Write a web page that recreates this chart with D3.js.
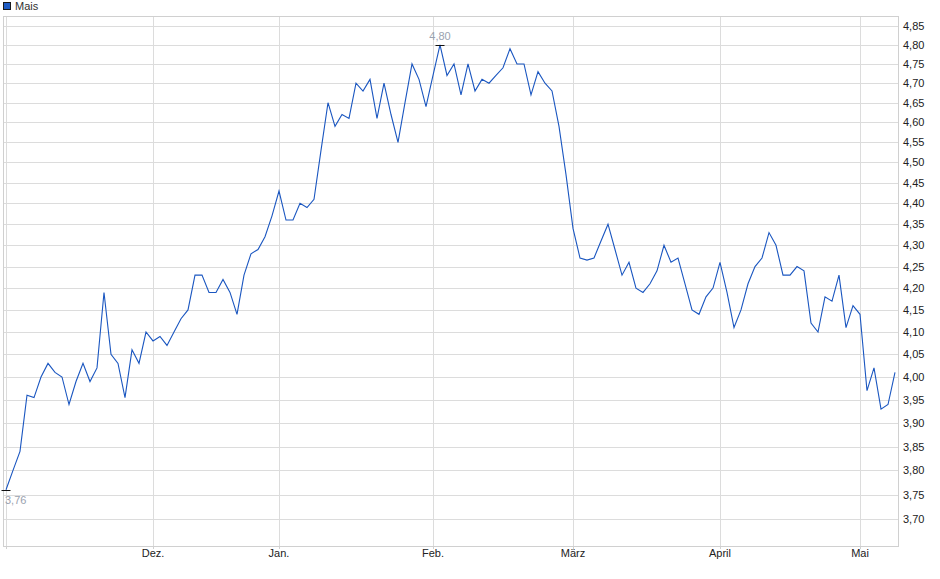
<!DOCTYPE html>
<html>
<head>
<meta charset="utf-8">
<script src="https://cdn.jsdelivr.net/npm/d3@7"></script>
<style>
    body { margin: 0; background: #fff; }
    text { font-family: "Liberation Sans", Arial, sans-serif; }
</style>
</head>
<body>
<script>
// series name + daily closes (trading days, Nov -> May)
const seriesName = "Mais";

const closes = [
    3.76, 3.80, 3.84, 3.96, 3.955, 4.00, 4.03, 4.01, 4.00, 3.94,
    3.99, 4.03, 3.99, 4.02, 4.19, 4.05, 4.03, 3.955, 4.06, 4.03,
    4.10, 4.08, 4.09, 4.07, 4.10, 4.13, 4.15, 4.23, 4.23, 4.19,
    4.19, 4.22, 4.19, 4.14, 4.23, 4.28, 4.29, 4.32, 4.37, 4.43,
    4.36, 4.36, 4.40, 4.39, 4.41, 4.53, 4.65, 4.59, 4.62, 4.61,
    4.70, 4.68, 4.71, 4.61, 4.70, 4.62, 4.55, 4.65, 4.75, 4.71,
    4.64, 4.72, 4.80, 4.72, 4.75, 4.67, 4.75, 4.68, 4.71, 4.70,
    4.72, 4.74, 4.79, 4.75, 4.75, 4.67, 4.73, 4.70, 4.68, 4.59,
    4.47, 4.34, 4.27, 4.265, 4.27, 4.31, 4.35, 4.29, 4.23, 4.26,
    4.20, 4.19, 4.21, 4.24, 4.30, 4.26, 4.27, 4.21, 4.15, 4.14,
    4.18, 4.20, 4.26, 4.19, 4.11, 4.15, 4.21, 4.25, 4.27, 4.33,
    4.30, 4.23, 4.23, 4.25, 4.24, 4.12, 4.10, 4.18, 4.17, 4.23,
    4.11, 4.16, 4.14, 3.97, 4.02, 3.93, 3.94, 4.01
];

// month starts (index into closes) and their labels
const monthIndex = [21, 39, 61, 81, 102, 122];
const monthLabels = ["Dez.", "Jan.", "Feb.", "März", "April", "Mai"];

// right-hand price ticks
const priceTicks = [
    3.70, 3.75, 3.80, 3.85, 3.90, 3.95, 4.00, 4.05, 4.10, 4.15, 4.20, 4.25,
    4.30, 4.35, 4.40, 4.45, 4.50, 4.55, 4.60, 4.65, 4.70, 4.75, 4.80, 4.85
];

const svgWidth = 940;
const svgHeight = 579;

const plot = {left: 3, right: 898, top: 16, bottom: 546};

const lineColor = "#1a56c0";
const gridColor = "#dcdcdc";
const labelColor = "#9aa2b0";

const fmt = v => d3.format(".2f")(v).replace(".", ",");

render_chart();

function render_chart() {

    const svg = d3.select("body")
        .append("svg")
        .attr("width", svgWidth)
        .attr("height", svgHeight);

    const x = d3.scaleLinear()
        .domain([0, closes.length - 1])
        .range([6, 895]);

    const y = d3.scaleLog()
        .domain([3.70, 4.85])
        .range([519, 26]);

    // legend
    svg.append("rect")
        .attr("x", 3.5).attr("y", 2.5)
        .attr("width", 7).attr("height", 7)
        .style("fill", "#1f5cc4")
        .style("stroke", "#1a1a1a");

    svg.append("text")
        .attr("x", 15).attr("y", 10)
        .text(seriesName)
        .style("font-size", "11px")
        .style("fill", "#333");

    // horizontal grid
    svg.append("g")
        .selectAll("line")
        .data(priceTicks)
        .join("line")
        .attr("x1", plot.left).attr("x2", plot.right)
        .attr("y1", d => Math.round(y(d)) + 0.5)
        .attr("y2", d => Math.round(y(d)) + 0.5)
        .style("stroke", gridColor);

    // vertical grid (start + month starts)
    svg.append("g")
        .selectAll("line")
        .data([0].concat(monthIndex))
        .join("line")
        .attr("x1", d => Math.round(x(d)) + 0.5)
        .attr("x2", d => Math.round(x(d)) + 0.5)
        .attr("y1", plot.top).attr("y2", plot.bottom + (0))
        .style("stroke", gridColor);

    // frame
    svg.append("rect")
        .attr("x", plot.left + 0.5).attr("y", plot.top + 0.5)
        .attr("width", plot.right - plot.left)
        .attr("height", plot.bottom - plot.top)
        .style("fill", "none")
        .style("stroke", "#d0d0d0");

    // small ticks below the axis
    svg.append("g")
        .selectAll("line")
        .data([0].concat(monthIndex))
        .join("line")
        .attr("x1", d => Math.round(x(d)) + 0.5)
        .attr("x2", d => Math.round(x(d)) + 0.5)
        .attr("y1", plot.bottom).attr("y2", plot.bottom + 3)
        .style("stroke", "#d0d0d0");

    // month labels
    svg.append("g")
        .selectAll("text")
        .data(monthIndex)
        .join("text")
        .attr("x", d => x(d))
        .attr("y", 557)
        .attr("text-anchor", "middle")
        .text((d, i) => monthLabels[i])
        .style("font-size", "11px")
        .style("fill", "#222");

    // price labels
    svg.append("g")
        .selectAll("text")
        .data(priceTicks)
        .join("text")
        .attr("x", 903)
        .attr("y", d => y(d) + 4)
        .text(d => fmt(d))
        .style("font-size", "11px")
        .style("fill", "#222");

    // the series
    const line = d3.line()
        .x((d, i) => x(i))
        .y(d => y(d));

    svg.append("path")
        .datum(closes)
        .attr("d", line)
        .style("fill", "none")
        .style("stroke", lineColor)
        .style("stroke-width", 1.1);

    // min / max markers
    const iMin = d3.minIndex(closes);
    const iMax = d3.maxIndex(closes);

    [iMin, iMax].forEach(i => {
        svg.append("line")
            .attr("x1", x(i) - 4.5).attr("x2", x(i) + 4.5)
            .attr("y1", Math.round(y(closes[i])) + 0.5)
            .attr("y2", Math.round(y(closes[i])) + 0.5)
            .style("stroke", "#111");
    });

    svg.append("text")
        .attr("x", x(iMin) - 1)
        .attr("y", y(closes[iMin]) + 14)
        .text(fmt(closes[iMin]))
        .style("font-size", "11px")
        .style("fill", labelColor);

    svg.append("text")
        .attr("x", x(iMax))
        .attr("y", y(closes[iMax]) - 5)
        .attr("text-anchor", "middle")
        .text(fmt(closes[iMax]))
        .style("font-size", "11px")
        .style("fill", labelColor);
}
</script>
</body>
</html>
